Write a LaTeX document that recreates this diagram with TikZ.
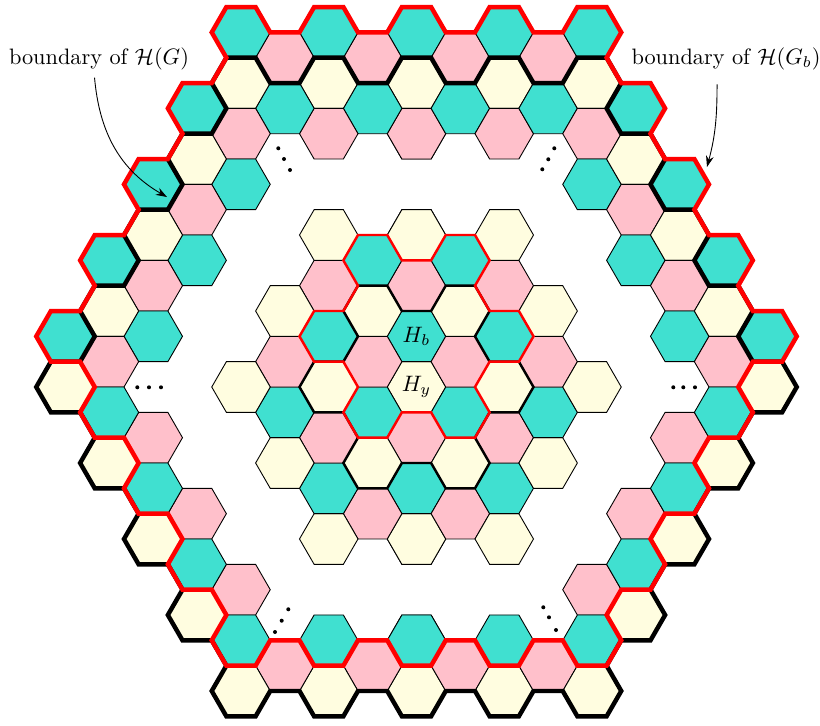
\documentclass[tikz,border=0pt]{standalone}
\usetikzlibrary{arrows.meta}
\definecolor{hexTealFill}{HTML}{40E0D0}
\definecolor{hexPinkFill}{HTML}{FFC0CB}
\definecolor{hexYellowFill}{HTML}{FFFDE0}
\definecolor{bndRedLine}{HTML}{FF0000}
\tikzset{
  hex cell/.style={draw=black, line width=0.4pt},
  outer bnd/.style={line width=2pt},
  inner bnd/.style={line width=1.1pt},
  bnd arrow/.style={-{Stealth[length=5pt, width=3.5pt]}, line width=0.4pt},
}
% hex grid: circumradius, column step, half-row step, half radius (1 unit = 1px)
\def\hexR{29.25}
\def\hexDX{43.875}
\def\hexDY{25.331}
\def\hexHalf{14.625}
% one hex at column #1, half-row #2 -- colour cycles yellow, pink, teal
\newcommand\hexCell[2]{%
  \pgfmathtruncatemacro\hexK{mod((3*(#1)-(#2))/2+30,3)}%
  \ifcase\hexK\def\hexFill{hexYellowFill}\or\def\hexFill{hexPinkFill}\or\def\hexFill{hexTealFill}\fi
  \filldraw[hex cell, fill=\hexFill] ({\hexDX*(#1)},{\hexDY*(#2)})
    +(0:\hexR) -- +(60:\hexR) -- +(120:\hexR) -- +(180:\hexR)
    -- +(240:\hexR) -- +(300:\hexR) -- cycle;%
}

\begin{document}
\begin{tikzpicture}[x=0.448pt, y=0.448pt]
\useasboundingbox (-416.5,-338) rectangle (403.5,387);

% --- CENTRAL PATCH (column / half-rows) ---
\foreach \c/\hs in {0/{-6,-4,...,6}, 1/{-5,-3,...,5}, 2/{-6,-4,...,6},
    3/{-3,-1,...,3}, 4/{0}}
  \foreach \s in {1,-1}
    \foreach \h in \hs {\hexCell{\s*\c}{\h}}

% --- OUTER BAND ---
\foreach \c/\hs in {0/{14,12,10,-10,-12}, 1/{13,11,-11}, 2/{14,12,10,-10,-12},
    3/{13,11,-11}, 4/{14,12,10,8,-8,-10,-12}, 5/{11,9,7,5,-5,-7,-9},
    6/{8,6,4,2,-2,-4,-6}, 7/{5,3,1,-1,-3}, 8/{2,0}}
  \foreach \s in {1,-1}
    \foreach \h in \hs {\hexCell{\s*\c}{\h}}

% --- SMALL BOUNDARIES round H_y (black) and H_b (red) ---
\draw[inner bnd, black] (-4*\hexHalf, 4*\hexDY)
  \foreach \k in {0,...,5}{
    -- ++({-60*\k}:\hexR) -- ++({-60-60*\k}:\hexR)
    -- ++({-60*\k}:\hexR) -- ++({60-60*\k}:\hexR)
    -- ++({-60*\k}:\hexR)} -- cycle;
\draw[inner bnd, bndRedLine] (-4*\hexHalf, 6*\hexDY)
  \foreach \k in {0,...,5}{
    -- ++({-60*\k}:\hexR) -- ++({-60-60*\k}:\hexR)
    -- ++({-60*\k}:\hexR) -- ++({60-60*\k}:\hexR)
    -- ++({-60*\k}:\hexR)} -- cycle;

% --- BOUNDARY OF H(G) (black) and H(G_b) (red, one hex higher) ---
\draw[outer bnd, black] (-13*\hexHalf, 13*\hexDY)
  \foreach \k in {0,...,5}{
    \foreach \r in {1,...,4}{
      -- ++({-60*\k}:\hexR) -- ++({-60-60*\k}:\hexR)
      -- ++({-60*\k}:\hexR) -- ++({60-60*\k}:\hexR)}
    -- ++({-60*\k}:\hexR)} -- cycle;
\draw[outer bnd, bndRedLine] (-13*\hexHalf, 15*\hexDY)
  \foreach \k in {0,...,5}{
    \foreach \r in {1,...,4}{
      -- ++({-60*\k}:\hexR) -- ++({-60-60*\k}:\hexR)
      -- ++({-60*\k}:\hexR) -- ++({60-60*\k}:\hexR)}
    -- ++({-60*\k}:\hexR)} -- cycle;

% --- CENTRE LABELS ---
\node (hb) at (0, 2*\hexDY) {$H_b$};
\node (hy) at (0, 0) {$H_y$};

% --- ELLIPSIS DOTS ---
\foreach \x/\y in {-138.2/238.7, -132.5/228, -126.5/217,
    137.8/238.7, 131.8/227.7, 125.8/217.7,
    -279.2/-0.3, -267.5/-0.3, -255.5/-0.3,
    256.8/-0.3, 266.8/-0.3, 278.5/-0.3,
    -128.2/-222.3, -134.8/-233.7, -141.5/-245,
    126.8/-220.3, 132.5/-230.3, 139.5/-243}
  \fill (\x,\y) circle (2);

% --- OUTER LABELS ---
\node (lblG) at (-317.5, 328.5) {boundary of $\mathcal{H}(G)$};
\node (lblGb) at (309.5, 328.5) {boundary of $\mathcal{H}(G_b)$};
\coordinate (tipG) at (-249.5, 190);
\coordinate (tipGb) at (290.5, 220);
\draw[bnd arrow] ([xshift=-2pt]lblG.south) to[out=-85, in=150] (tipG);
\draw[bnd arrow] ([xshift=-4pt, yshift=-3pt]lblGb.south) to[out=-90, in=75] (tipGb);

\end{tikzpicture}
\end{document}
